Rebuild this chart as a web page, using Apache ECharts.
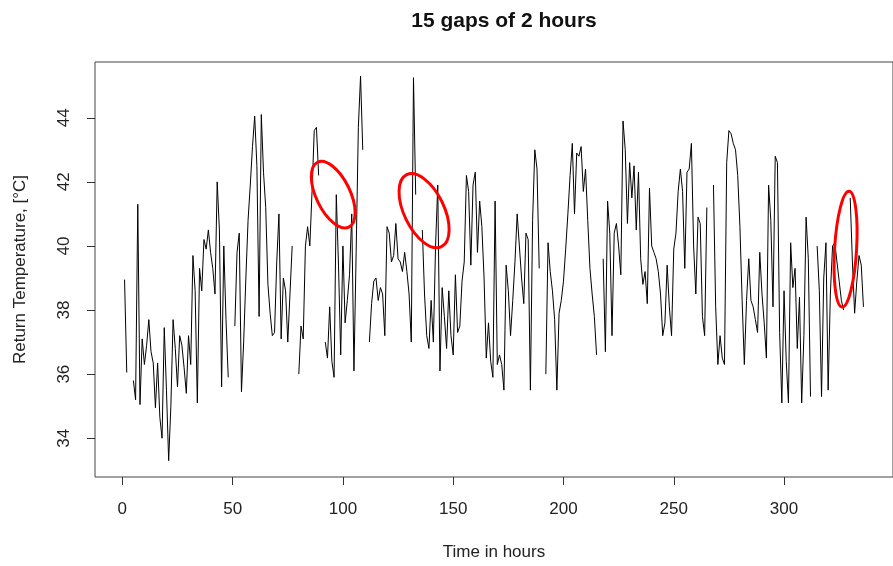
<!DOCTYPE html>
<html>
<head>
<meta charset="utf-8">
<script src="https://cdn.jsdelivr.net/npm/echarts@6.0.0/dist/echarts.min.js"></script>
<style>
  html, body { margin: 0; padding: 0; background: #fff; }
  #chart { width: 893px; height: 566px; }
</style>
</head>
<body>
<div id="chart"></div>
<script>
  // return temperature, one value per hour (hour 1..336), null = gap
  var temps = [
    38.95, 36.05, null, null, 35.8, 35.2, 41.3, 35.05, 37.1, 36.3, 36.9, 37.7, 36.7, 36.35, 34.95, 36.35, 34.65, 34.0, 37.45, 35.5, 33.3, 35.0, 37.7, 36.8,
    35.6, 37.2, 36.9, 36.2, 35.4, 37.2, 36.3, 39.7, 38.6, 35.1, 39.3, 38.6, 40.2, 39.9, 40.5, 39.8, 39.3, 38.5, 42.0, 40.5, 35.6, 40.0, 37.7, 35.9,
    null, null, 37.5, 39.8, 40.4, 35.45, 37.0, 39.0, 40.8, 41.9, 43.1, 44.05, 42.5, 37.8, 44.1, 42.3, 41.2, 38.8, 37.9, 37.2, 37.3, 39.5, 41.0, 37.1,
    39.0, 38.6, 37.0, 38.5, 40.0, null, null, 36.0, 37.5, 37.1, 40.0, 40.6, 40.0, 41.7, 43.6, 43.7, 42.2, null, null, 37.0, 36.5, 38.1, 36.4, 35.9,
    41.6, 39.4, 36.6, 40.0, 37.6, 38.3, 39.1, 41.0, 36.1, 39.8, 43.7, 45.3, 43.0, null, null, 37.0, 38.2, 38.9, 39.0, 38.3, 38.7, 38.5, 37.2, 40.6,
    40.4, 39.5, 39.7, 40.7, 39.6, 39.5, 39.2, 39.8, 39.2, 38.5, 37.0, 45.25, 41.6, null, null, 40.5, 38.5, 37.2, 36.8, 38.3, 37.0, 40.0, 41.9, 36.1,
    38.7, 37.8, 36.8, 38.6, 37.2, 36.6, 39.1, 37.3, 37.5, 38.9, 39.5, 42.2, 41.7, 39.4, 41.9, 42.3, 39.8, 41.4, 40.6, 39.0, 36.5, 37.6, 36.4, 35.9,
    41.4, 36.3, 36.6, 36.3, 35.5, 39.4, 38.6, 37.2, 38.3, 39.5, 41.0, 40.0, 39.0, 38.2, 40.4, 40.2, 35.5, 40.8, 43.0, 42.4, 39.3, null, null, 36.0,
    40.1, 39.2, 38.6, 37.7, 35.5, 37.9, 38.3, 38.9, 39.9, 41.0, 42.2, 43.2, 41.0, 42.9, 42.8, 43.1, 41.7, 42.4, 40.8, 39.3, 38.5, 37.8, 36.6, null,
    null, 39.6, 36.7, 41.4, 40.4, 37.2, 40.4, 40.7, 40.0, 39.1, 43.9, 43.0, 40.7, 42.6, 41.5, 42.5, 40.5, 42.3, 39.6, 38.8, 39.2, 38.2, 41.8, 40.0,
    39.8, 39.6, 39.2, 38.5, 37.2, 37.6, 39.4, 38.1, 37.2, 39.9, 40.4, 41.7, 42.4, 41.7, 39.3, 42.3, 42.4, 43.2, 40.0, 38.5, 40.9, 40.7, 37.8, 37.2,
    41.2, null, null, 41.9, 38.1, 36.3, 37.2, 36.5, 36.3, 42.6, 43.6, 43.5, 43.2, 43.0, 42.2, 40.6, 38.3, 36.3, 38.3, 39.6, 38.3, 38.1, 37.7, 37.3,
    39.8, 38.5, 37.6, 36.5, 41.9, 40.8, 38.1, 42.8, 42.6, 37.3, 35.1, 38.6, 36.4, 35.1, 40.1, 38.7, 39.3, 36.8, 38.4, 35.1, 37.2, 40.9, 39.6, 35.3,
    null, null, 40.0, 38.6, 35.3, 39.0, 40.1, 35.5, 38.5, 40.0, 40.1, 39.5, 38.9, 38.3, 38.0, null, null, 41.5, 39.5, 37.9, 38.9, 39.7, 39.4, 38.1
  ];
  var xTicks = [0, 50, 100, 150, 200, 250, 300];
  var yTicks = [34, 36, 38, 40, 42, 44];
  // red circles drawn round some gaps: centre in [hour, temp]
  var circleCentres = [[95.6, 41.6], [136.8, 41.1], [327.9, 39.9]];

  var fontFam = '"Liberation Sans", Arial, sans-serif';
  var chart = echarts.init(document.getElementById('chart'));

  var lineData = temps.map(function (v, i) {
    return [i + 1, v == null ? '-' : v];
  });

  chart.setOption({
    animation: false,
    backgroundColor: '#fff',
    title: {
      text: '15 gaps of 2 hours',
      left: 499,
      top: 6,
      textAlign: 'center',
      textStyle: { fontFamily: fontFam, fontSize: 21, fontWeight: 'bold', color: '#111' }
    },
    grid: {
      left: 95,
      top: 62,
      right: -10,
      bottom: 88,
      show: true,
      borderColor: '#444',
      borderWidth: 1
    },
    xAxis: {
      type: 'value',
      min: -12.4,
      max: 349.4,
      name: 'Time in hours',
      nameLocation: 'middle',
      nameGap: 67,
      nameTextStyle: { fontFamily: fontFam, fontSize: 17, color: '#222' },
      axisLine: { show: false, onZero: false },
      axisTick: {
        show: true,
        length: 8,
        customValues: xTicks,
        lineStyle: { color: '#333' }
      },
      axisLabel: {
        margin: 24,
        customValues: xTicks,
        fontFamily: fontFam,
        fontSize: 17,
        color: '#222'
      },
      splitLine: { show: false }
    },
    yAxis: {
      type: 'value',
      min: 32.79,
      max: 45.74,
      name: 'Return Temperature, [°C]',
      nameLocation: 'middle',
      nameGap: 66,
      nameTextStyle: { fontFamily: fontFam, fontSize: 17, color: '#222' },
      axisLine: { show: false, onZero: false },
      axisTick: {
        show: true,
        length: 8,
        customValues: yTicks,
        lineStyle: { color: '#333' }
      },
      axisLabel: {
        rotate: 90,
        margin: 22,
        customValues: yTicks,
        fontFamily: fontFam,
        fontSize: 17,
        color: '#222'
      },
      splitLine: { show: false }
    },
    series: [{
      type: 'line',
      data: lineData,
      showSymbol: false,
      connectNulls: false,
      lineStyle: { color: '#000', width: 1 },
      silent: true
    }]
  });

  // ellipses round the gaps, placed from data coordinates
  var tilts = [0.45, 0.45, -0.06];
  var radii = [[17, 36], [20, 40], [11, 58]];
  var graphics = circleCentres.map(function (c, i) {
    var p = chart.convertToPixel({ gridIndex: 0 }, c);
    return {
      type: 'ellipse',
      x: p[0],
      y: p[1],
      rotation: tilts[i],
      shape: { cx: 0, cy: 0, rx: radii[i][0], ry: radii[i][1] },
      style: { fill: null, stroke: '#f00', lineWidth: 3 },
      z: 100
    };
  });
  chart.setOption({ graphic: graphics });
</script>
</body>
</html>
